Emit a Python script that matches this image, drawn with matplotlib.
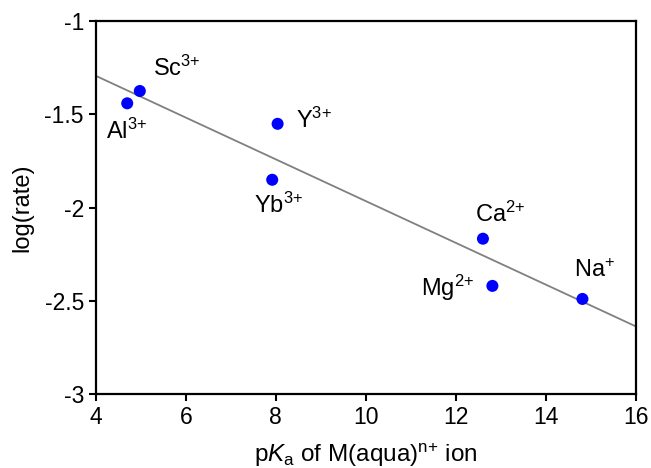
import numpy as np
import matplotlib
matplotlib.use("Agg")
import matplotlib.pyplot as plt

plt.rcParams.update({
    "font.family": "Liberation Sans",
    "mathtext.fontset": "custom",
    "mathtext.rm": "Liberation Sans",
    "mathtext.it": "Liberation Sans:italic",
    "font.size": 16,
})

# data
ions = ["Al", "Sc", "Y", "Yb", "Ca", "Mg", "Na"]
charges = ["3{+}", "3{+}", "3{+}", "3{+}", "2{+}", "2{+}", "{+}"]
pka = [4.70, 4.98, 8.04, 7.92, 12.60, 12.81, 14.81]
log_rate = [-1.441, -1.375, -1.551, -1.851, -2.167, -2.420, -2.490]

# label offsets in points (text centre x, baseline y relative to marker)
offsets = {"Al": (-0.7, -25.7), "Sc": (26.6, 10.8), "Y": (26, -2.9),
           "Yb": (4.5, -23.8), "Ca": (12.2, 12), "Mg": (-32.4, -7.4),
           "Na": (8.8, 15.8)}

fig, ax = plt.subplots(figsize=(6.51, 4.68), dpi=100)
fig.subplots_adjust(left=0.147, right=0.977, top=0.955, bottom=0.158)

# linear trend line
slope, icpt = np.polyfit(pka, log_rate, 1)
xl = np.array([4, 16])
ax.plot(xl, slope * xl + icpt, color="#808080", lw=1.3, zorder=1)

ax.scatter(pka, log_rate, s=75, color="#0000ff", zorder=2, edgecolors="none")

for name, ch, x, y in zip(ions, charges, pka, log_rate):
    dx, dy = offsets[name]
    ax.annotate(name + r"$^{\mathrm{" + ch + "}}$", (x, y), xytext=(dx, dy),
                textcoords="offset points", ha="center", va="baseline",
                fontsize=17)

ax.set_xlim(4, 16)
ax.set_ylim(-3, -1)
ax.set_xticks(np.arange(4, 17, 2))
ax.set_yticks([-3, -2.5, -2, -1.5, -1])
ax.set_yticklabels(["-3", "-2.5", "-2", "-1.5", "-1"])
ax.tick_params(direction="out", length=5, width=1.5, labelsize=16.5)

for sp in ax.spines.values():
    sp.set_linewidth(1.6)

ax.set_xlabel(r"p$\mathit{K}_\mathrm{a}$ of M(aqua)$^{\mathrm{n{+}}}$ ion", fontsize=17.5, labelpad=9)
ax.set_ylabel("log(rate)", fontsize=17, labelpad=8)

fig.savefig("out.png", dpi=100)
